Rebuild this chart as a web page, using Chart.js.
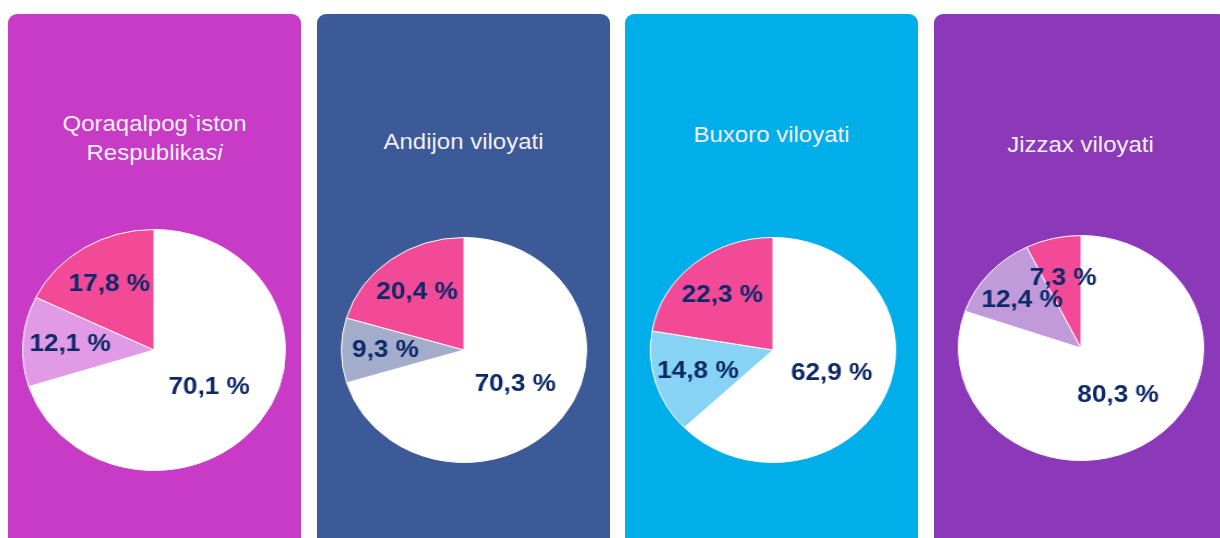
<!DOCTYPE html>
<html>
<head>
<meta charset="utf-8">
<script src="https://cdn.jsdelivr.net/npm/chart.js@4/dist/chart.umd.min.js"></script>
<style>
  body { margin: 0; background: #fff; width: 1220px; height: 538px; overflow: hidden; position: relative; }
  .panel { position: absolute; top: 14px; width: 293px; height: 540px; border-radius: 9px; }
  .title { position: absolute; left: 0; width: 100%; text-align: center; color: #f3eef6;
           font-family: "Liberation Sans", Arial, sans-serif; font-size: 22px; line-height: 29px;
           transform: scaleX(1.09); }
  .panel canvas { position: absolute; transform: scaleX(1.09); }
</style>
</head>
<body>
<script>
// regions and shares (white = main group, then light group, then pink group)
const regions = ['Qoraqalpog`iston Respublikasi', 'Andijon viloyati', 'Buxoro viloyati', 'Jizzax viloyati'];
const whiteShare = [70.1, 70.3, 62.9, 80.3];
const lightShare = [12.1, 9.3, 14.8, 12.4];
const pinkShare = [17.8, 20.4, 22.3, 7.3];

// look & layout
const panelColors = ['#c73bc6', '#3d5a98', '#00aeea', '#8b39b8'];
const lightColors = ['#e19be6', '#a3adcb', '#86d3f5', '#c09ad9'];
const pinkColor = '#f34a98';
const panelLeft = [8, 317, 625, 934];
const titleTop = [95, 113, 106, 116];
const pieSize = [246, 230, 230, 230];
const pieLeft = [23, 32, 33, 32];
const pieTop = [213, 221, 221, 219];

const sliceLabels = {
  id: 'sliceLabels',
  afterDatasetsDraw(chart) {
    const ctx = chart.ctx;
    const ds = chart.data.datasets[0];
    chart.getDatasetMeta(0).data.forEach((arc, i) => {
      const p = arc.getProps(['x', 'y', 'startAngle', 'endAngle', 'outerRadius'], true);
      const mid = (p.startAngle + p.endAngle) / 2;
      const v = ds.data[i];
      const r = p.outerRadius * (v > 50 ? 0.52 : 0.64);
      ctx.save();
      ctx.font = 'bold 24px "Liberation Sans", Arial, sans-serif';
      ctx.fillStyle = '#0c2868';
      ctx.textAlign = 'center';
      ctx.textBaseline = 'middle';
      ctx.fillText(v.toFixed(1).replace('.', ',') + ' %', p.x + Math.cos(mid) * r, p.y + Math.sin(mid) * r);
      ctx.restore();
    });
  }
};

regions.forEach((name, k) => {
  const panel = document.createElement('div');
  panel.className = 'panel';
  panel.style.left = panelLeft[k] + 'px';
  panel.style.background = panelColors[k];

  const title = document.createElement('div');
  title.className = 'title';
  title.style.top = titleTop[k] + 'px';
  if (k === 0) {
    title.innerHTML = 'Qoraqalpog`iston<br>Respublika<i>si</i>';
  } else {
    title.textContent = name;
  }
  panel.appendChild(title);

  const canvas = document.createElement('canvas');
  canvas.width = pieSize[k];
  canvas.height = pieSize[k];
  canvas.style.left = pieLeft[k] + 'px';
  canvas.style.top = pieTop[k] + 'px';
  panel.appendChild(canvas);
  document.body.appendChild(panel);

  new Chart(canvas, {
    type: 'pie',
    data: {
      labels: ['', '', ''],
      datasets: [{
        data: [whiteShare[k], lightShare[k], pinkShare[k]],
        backgroundColor: ['#ffffff', lightColors[k], pinkColor],
        borderColor: '#ffffff',
        borderWidth: 1
      }]
    },
    options: {
      responsive: false,
      animation: false,
      layout: { padding: 2 },
      plugins: {
        legend: { display: false },
        tooltip: { enabled: false }
      }
    },
    plugins: [sliceLabels]
  });
});
</script>
</body>
</html>
